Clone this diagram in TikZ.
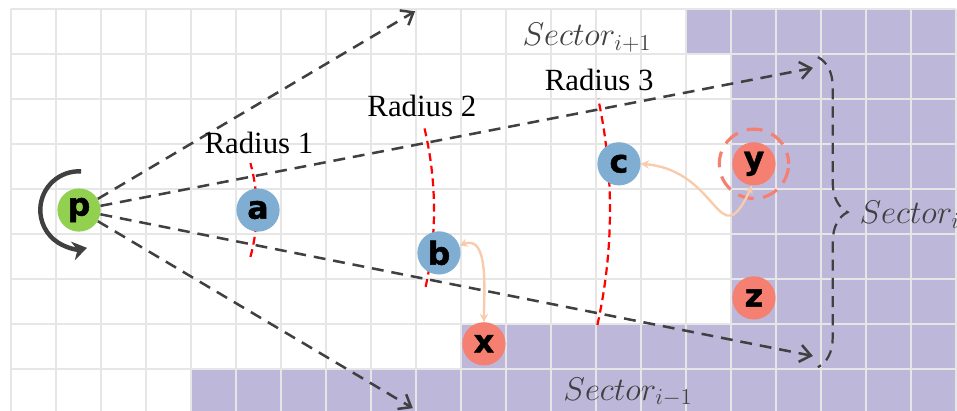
\documentclass[tikz,border=0pt]{standalone}
\usepackage{fontspec}
\setmainfont{Liberation Serif}
\newfontfamily\nodefont{DejaVu Sans}[BoldFeatures={FakeBold=1.5}]
\usetikzlibrary{arrows.meta,decorations.pathreplacing,calc}

\definecolor{gridgray}{RGB}{230,230,230}
\definecolor{secpurple}{RGB}{189,183,218}
\definecolor{ptgreen}{RGB}{146,208,80}
\definecolor{ptblue}{RGB}{127,174,210}
\definecolor{ptred}{RGB}{245,128,113}
\definecolor{raygray}{RGB}{64,64,64}
\definecolor{peach}{RGB}{248,203,173}

\begin{document}
\begin{tikzpicture}[
  pt/.style={circle, minimum size=0.96cm, inner sep=0pt,
             font={\nodefont\bfseries\fontsize{20}{20}\selectfont}},
  ctr/.style={pt, fill=ptgreen},
  nbr/.style={pt, fill=ptblue},
  far/.style={pt, fill=ptred},
  ray/.style={draw=raygray, line width=1.6pt, dash pattern=on 7.5pt off 5pt,
              -{Straight Barb[length=2.4mm,width=3.8mm]}},
  rad/.style={draw=red, line width=1.4pt, dash pattern=on 5pt off 3pt},
  lnk/.style={draw=peach, line width=1.5pt,
              {Stealth[length=1.8mm,width=1.9mm]}-{Stealth[length=1.8mm,width=1.9mm]}},
  lbl/.style={font={\fontsize{19.5}{22}\selectfont}, inner sep=0pt},
  sec/.style={font={\fontsize{20.74}{24}\selectfont}, text=raygray, inner sep=0pt},
]
\clip (-0.244,-8.933) rectangle (21.022,0.2);

%% ---------- grid and sectors ----------
\fill[secpurple] (15,0) -- (21,0) -- (21,-9) -- (4,-9) -- (4,-8) -- (10,-8)
  -- (10,-7) -- (16,-7) -- (16,-1) -- (15,-1) -- cycle;
\draw[gridgray, line width=1.3pt] (0,-9) grid (21,0);

%% ---------- points ----------
\coordinate (pc) at (1.511,-4.467);
\coordinate (t1) at (8.98,-0.05);
\coordinate (t2) at (17.82,-1.31);
\coordinate (t3) at (17.82,-7.71);
\coordinate (t4) at (8.93,-8.87);

% radius marks
\draw[rad] ([shift={(-15.3:3.95)}]pc) arc[start angle=-15.3, end angle=15.3, radius=3.95];
\draw[rad] ([shift={(-12.5:7.89)}]pc) arc[start angle=-12.5, end angle=13.7, radius=7.89];
\draw[rad] ([shift={(-12.5:11.8)}]pc) arc[start angle=-12.5, end angle=12.1, radius=11.8];

\node[ctr] (p) at (pc) {p};
\foreach \t in {t1,t2,t3,t4}{\draw[ray] (p) -- (\t);}

\node[nbr] (a) at (5.49,-4.467) {a};
\node[nbr] (b) at (9.51,-5.42) {b};
\node[nbr] (c) at (13.51,-3.44) {c};
\node[far] (y) at (16.51,-3.44) {y};
\node[far] (z) at (16.51,-6.42) {z};
\node[far] (x) at (10.51,-7.44) {x};

\draw[ptred, line width=2pt, dash pattern=on 10pt off 6pt, dash phase=3pt] (y) circle[radius=0.77];

% rotation of p
\draw[raygray, line width=2.8pt, -{Stealth[length=3.2mm,width=4.2mm]}]
  ([shift={(87:0.86)}]p.center) arc[start angle=87, end angle=282, radius=0.86];

% neighbour links
\draw[lnk] (b.20) to[out=20, in=90] (x.north);
\draw[lnk] (c.east) to[out=-5, in=-115, looseness=1.8] (y.-95);

% sector i brace
\coordinate (bt) at (17.93,-1.07);
\coordinate (bb) at (17.93,-7.96);
\draw[raygray, line width=1.4pt, dash pattern=on 7pt off 4.5pt, decorate,
      decoration={brace, amplitude=0.66cm, aspect=0.5}] (bt) -- (bb);

%% ---------- labels ----------
\node[lbl, anchor=base] (r1) at (5.51,-3.22) {Radius 1};
\node[lbl, anchor=base] (r2) at (9.13,-2.38) {Radius 2};
\node[lbl, anchor=base] (r3) at (13.07,-1.82) {Radius 3};
\node[sec, anchor=base west] (s1) at (11.36,-0.82) {$Sector_{i+1}$};
\node[sec, anchor=base west] (s0) at (18.85,-4.76) {$Sector_{i}$};
\node[sec, anchor=base west] (s2) at (12.27,-8.69) {$Sector_{i-1}$};
\end{tikzpicture}
\end{document}
